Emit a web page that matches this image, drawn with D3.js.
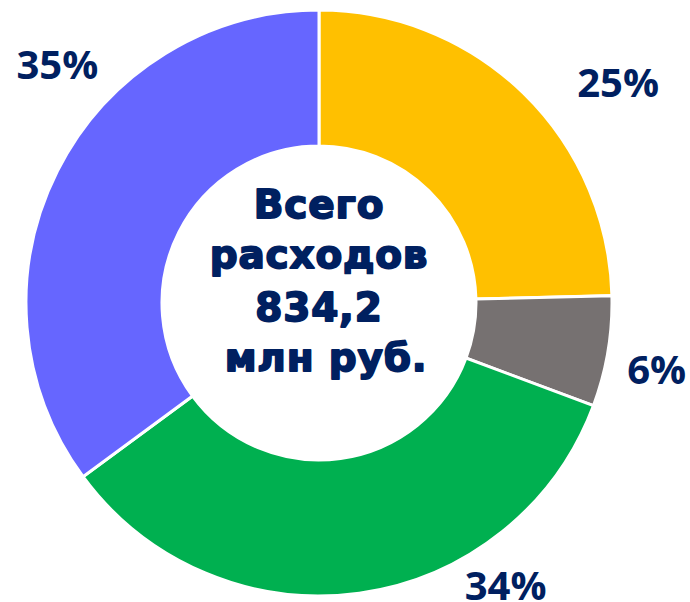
<!DOCTYPE html>
<html>
<head>
<meta charset="utf-8">
<script src="https://cdn.jsdelivr.net/npm/d3@7"></script>
<style>
  body { margin: 0; background: #fff; }
</style>
</head>
<body>
<div id="chart"></div>
<script>
// expense shares, percent
const categories = ["Группа 1", "Группа 2", "Группа 3", "Группа 4"];
const shares = [24.6, 6.1, 34.2, 35.1];
const sliceColors = ["#FFC000", "#767171", "#00B050", "#6666FF"];
const centerLines = ["Всего", "расходов", "834,2", " млн руб."];

const width = 690, height = 602;
const cx = 319, cy = 303;
const outerR = 293, innerR = 157;

// hand-placed label nudges (the original labels were dragged around)
const labelAnchor = [
    {r: 372, a: 53.5},
    {r: 344, a: 101},
    {r: 338, a: 146.5},
    {r: 355, a: 312.5}
];

const data = categories.map((c, i) => ({name: c, value: shares[i], color: sliceColors[i]}));

const svg = d3.select("#chart")
    .append("svg")
    .attr("width", width)
    .attr("height", height);

const g = svg.append("g")
    .attr("transform", `translate(${cx},${cy})`);

const pie = d3.pie()
    .sort(null)
    .value(d => d.value);

const arc = d3.arc()
    .innerRadius(innerR)
    .outerRadius(outerR);

const arcs = pie(data);

g.selectAll("path")
    .data(arcs)
    .join("path")
    .attr("d", arc)
    .attr("fill", d => d.data.color)
    .attr("stroke", "#fff")
    .attr("stroke-width", 3);

// percent labels
const total = d3.sum(shares);
g.selectAll("text.pct")
    .data(arcs)
    .join("text")
    .attr("class", "pct")
    .attr("x", (d, i) => labelAnchor[i].r * Math.sin(labelAnchor[i].a * Math.PI / 180))
    .attr("y", (d, i) => -labelAnchor[i].r * Math.cos(labelAnchor[i].a * Math.PI / 180))
    .attr("text-anchor", "middle")
    .attr("dominant-baseline", "central")
    .style("font", "bold 40px 'Open Sans', sans-serif")
    .style("fill", "#002060")
    .text(d => Math.round(d.data.value / total * 100) + "%");

// total in the hole
const lineY = [-85, -35, 18, 68];
g.selectAll("text.center")
    .data(centerLines)
    .join("text")
    .attr("class", "center")
    .attr("x", (d, i) => i === 3 ? 7 : 0)
    .attr("y", (d, i) => lineY[i])
    .attr("text-anchor", "middle")
    .style("font-family", "'DejaVu Sans', sans-serif")
    .style("font-weight", "bold")
    .style("font-size", "39px")
    .style("letter-spacing", "0.8px")
    .style("fill", "#002060")
    .style("stroke", "#002060")
    .style("stroke-width", 1.8)
    .style("stroke-linejoin", "round")
    .text(d => d.trim());
</script>
</body>
</html>
